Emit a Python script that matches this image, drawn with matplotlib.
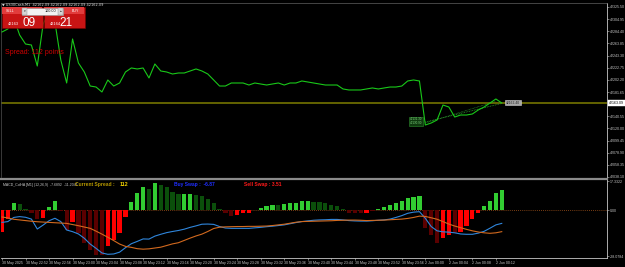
import matplotlib
matplotlib.use("Agg")
import matplotlib.pyplot as plt
from matplotlib.patches import Rectangle
import matplotlib.transforms as mtrans

plt.rcParams['font.family'] = ['Liberation Sans', 'DejaVu Sans']

# US30Cash M1 closes, one per bar
close = [42283.1, 42288.2, 42306.7, 42278.0, 42262.8, 42261.1, 42225.6, 42296.6, 42316.9, 42300.0,
         42235.8, 42196.9, 42271.3, 42230.7, 42215.5, 42191.8, 42190.1, 42181.7, 42202.0, 42191.8,
         42196.9, 42215.5, 42222.3, 42220.6, 42222.3, 42205.4, 42229.0, 42217.2, 42215.5, 42212.1,
         42213.8, 42213.8, 42217.2, 42220.6, 42217.2, 42212.1, 42202.0, 42191.8, 42191.8, 42196.9,
         42196.9, 42196.9, 42193.5, 42196.9, 42195.2, 42193.5, 42195.2, 42196.9, 42193.5, 42196.9,
         42196.9, 42200.3, 42198.6, 42196.9, 42195.2, 42193.5, 42193.5, 42193.5, 42186.8, 42185.1,
         42185.1, 42185.1, 42186.8, 42188.5, 42186.8, 42188.5, 42190.1, 42190.1, 42191.8, 42200.3,
         42202.0, 42200.3, 42125.9, 42129.3, 42134.4, 42159.7, 42156.3, 42139.4, 42142.8, 42142.8,
         42144.5, 42151.3, 42156.3, 42163.1, 42169.9, 42163.1]
bid = 42163.09
ask = 42164.21

# MACD_ColHA (12,26,9)
hist = [-13.1, -5.6, 4.0, 3.6, 0.4, -2.0, -5.6, -4.6, 1.6, 5.6,
        -0.4, -12.1, -7.1, -14.1, -20.0, -24.2, -27.2, -27.2, -21.8, -18.2,
        -13.7, -4.0, 4.6, 10.5, 14.1, 12.5, 16.1, 15.1, 13.7, 11.1,
        9.7, 9.9, 9.7, 9.1, 8.5, 6.5, 4.0, 0.6, -2.0, -3.6,
        -3.0, -2.0, -2.0, 0.3, 1.4, 2.4, 3.0, 2.8, 3.4, 4.0,
        4.4, 5.4, 5.6, 5.0, 4.6, 4.0, 3.2, 2.4, 0.4, -1.6,
        -1.6, -1.6, -1.6, -0.3, 0.6, 1.6, 2.8, 4.0, 5.6, 7.5,
        8.1, 8.5, -11.1, -15.1, -20.0, -17.1, -15.1, -14.1, -13.1, -9.7,
        -5.4, -1.6, 2.4, 5.6, 10.1, 12.1]
# bar state: G up-strong, g up-weak, R down-strong, r down-weak
hist_state = list("RRGggrrRGG" "rrRrrrrrRR" "RRGGGgGggg" "gGGgggggrr" "RRRgGGGgGG"
                  "GGGggggggr" "rrRrGGGGGG" "GGrrrRRrRR" "RRGGGG")
macd = [-7.5, -7.0, -4.5, -4.0, -4.4, -5.5, -11.5, -9.1, -6.5, -5.0,
        -7.0, -12.1, -13.1, -14.5, -17.1, -20.6, -23.2, -26.0, -26.8, -26.6,
        -25.5, -22.8, -20.4, -19.0, -17.5, -17.6, -15.8, -14.7, -13.7, -13.0,
        -12.4, -11.6, -10.5, -9.6, -8.6, -8.5, -8.7, -10.0, -10.9, -11.1,
        -11.1, -11.1, -11.1, -10.8, -10.5, -10.1, -9.8, -9.4, -9.0, -8.3,
        -7.6, -7.0, -6.6, -6.2, -6.0, -5.9, -5.7, -5.7, -6.0, -6.4,
        -6.6, -6.7, -6.7, -6.5, -6.2, -6.0, -5.5, -4.5, -3.4, -2.0,
        -1.3, -1.0, -5.0, -10.0, -12.6, -13.2, -13.4, -13.8, -14.5, -14.7,
        -14.7, -14.0, -12.9, -11.0, -9.0, -8.1]
signal = [-4.2, -4.8, -5.6, -6.0, -6.4, -6.8, -7.1, -7.3, -7.5, -7.7,
          -7.9, -8.1, -8.8, -9.5, -10.3, -11.1, -12.8, -14.6, -16.5, -18.5,
          -20.6, -22.0, -22.6, -23.4, -23.7, -23.5, -23.0, -22.5, -21.5, -20.5,
          -19.8, -18.4, -17.0, -15.7, -14.6, -13.0, -11.2, -10.4, -10.2, -10.1,
          -10.0, -10.0, -9.9, -9.9, -9.8, -9.7, -9.4, -9.0, -8.6, -8.0,
          -7.4, -7.0, -6.9, -6.8, -6.7, -6.6, -6.5, -6.3, -6.2, -6.1,
          -6.1, -6.2, -6.4, -6.3, -6.2, -6.1, -5.9, -5.7, -5.5, -5.1,
          -4.5, -3.7, -3.9, -4.7, -5.6, -7.0, -8.5, -9.7, -10.7, -11.7,
          -12.6, -13.3, -13.8, -14.1, -13.8, -13.1]

time_labels = ["30 May 2025", "30 May 22:52", "30 May 22:56", "30 May 23:00", "30 May 23:04",
               "30 May 23:08", "30 May 23:12", "30 May 23:16", "30 May 23:20", "30 May 23:24",
               "30 May 23:28", "30 May 23:32", "30 May 23:36", "30 May 23:40", "30 May 23:44",
               "30 May 23:48", "30 May 23:52", "30 May 23:56", "2 Jun 00:00", "2 Jun 00:04",
               "2 Jun 00:08", "2 Jun 00:12"]
price_ticks = [42325.50, 42304.95, 42284.40, 42263.85, 42243.30, 42222.75, 42202.20, 42181.65,
               42140.55, 42120.00, 42099.45, 42078.90, 42058.35, 42038.10]
macd_ticks = [17.3322, 0.0, -28.0784]
macd_tick_labels = ["17.3322", "0.00", "-28.0784"]
trade_open = [42130.9, 42131.3]
trade_close = [42162.4, 42165.8]

bars = list(range(len(close)))
W, H = 625, 267
axcol = '#c8c8c8'

fig = plt.figure(figsize=(W / 100, H / 100), dpi=100, facecolor='black')
ax1 = fig.add_axes([1 / W, (H - 177) / H, 606 / W, 174 / H], facecolor='black')
ax2 = fig.add_axes([1 / W, (H - 258) / H, 606 / W, 79 / H], facecolor='black')
xlim = (-0.17, 102.9)

# --- price panel ---
ax1.plot(bars, close, color='#19c819', lw=0.8, zorder=3)
ax1.axhline(bid, color='#6b6b00', lw=1.3, zorder=2)
ax1.plot([72, 85], [trade_open[0], trade_close[0]], color='#2e9c2e', ls=(0, (1, 1)), lw=0.6)
ax1.plot([72, 84], [trade_open[1] - 2, trade_close[1]], color='#2e9c2e', ls=(0, (1, 1)), lw=0.5)
ax1.text(71.4, trade_open[0] + 1, "%.2f\n%.2f" % (trade_open[1], trade_open[0]), ha='right', va='center',
         fontsize=2.2, color='#7fd07f', linespacing=1.0,
         bbox=dict(boxstyle='square,pad=0.25', fc='#0f3a0f', ec='#2e8b2e', lw=0.4))
ax1.text(85.7, trade_close[0] + 1.5, "%.2f" % trade_close[0], ha='left', va='center',
         fontsize=2.4, color='#202020',
         bbox=dict(boxstyle='square,pad=0.25', fc='#a8a8a8', ec='#d0d0d0', lw=0.4))
ax1.set_xlim(*xlim)
ax1.set_ylim(42038.03, 42332.09)
ax1.set_xticks([])
ax1.yaxis.tick_right()
ax1.set_yticks(price_ticks)
ax1.set_yticklabels(["%.2f" % p for p in price_ticks])
ax1.tick_params(axis='y', labelsize=2.6, colors=axcol, length=1.5, width=0.4, pad=0.6)
for s in ax1.spines.values():
    s.set_visible(False)
ax1.spines['right'].set_visible(True)
ax1.spines['right'].set_color(axcol)
ax1.spines['right'].set_linewidth(0.6)
ax1.spines['top'].set_visible(True)
ax1.spines['top'].set_color('#606060')
ax1.spines['top'].set_linewidth(0.5)
ax1.spines['left'].set_visible(True)
ax1.spines['left'].set_color('#505050')
ax1.spines['left'].set_linewidth(0.5)
tr = mtrans.blended_transform_factory(ax1.transAxes, ax1.transData)
ax1.text(1.003, bid, "%.2f" % bid, transform=tr, ha='left', va='center', fontsize=2.6, color='black',
         bbox=dict(boxstyle='square,pad=0.25', fc='white', ec='white', lw=0.3), clip_on=False)

# --- MACD panel ---
colmap = {'G': '#32cd32', 'g': '#0b4f0b', 'R': '#ff0000', 'r': '#5a0000'}
ax2.bar(bars, hist, width=0.72, color=[colmap[s] for s in hist_state], zorder=2)
ax2.axhline(0, color='#a0521a', ls=(0, (1, 1.5)), lw=0.6, zorder=1)
ax2.plot(bars, macd, color='#2f86dc', lw=0.8, zorder=3)
ax2.plot(bars, signal, color='#d2691e', lw=0.8, zorder=3)
ax2.set_xlim(*xlim)
ax2.set_ylim(-29.04, 18.76)
ax2.yaxis.tick_right()
ax2.set_yticks(macd_ticks)
ax2.set_yticklabels(macd_tick_labels)
ax2.tick_params(axis='y', labelsize=2.6, colors=axcol, length=1.5, width=0.4, pad=0.6)
ax2.set_xticks(bars[::4])
ax2.set_xticklabels(time_labels, ha='left')
ax2.tick_params(axis='x', labelsize=2.6, colors=axcol, length=1.5, width=0.4, pad=1.0)
for s in ax2.spines.values():
    s.set_visible(False)
for side in ('right', 'bottom'):
    ax2.spines[side].set_visible(True)
    ax2.spines[side].set_color(axcol)
    ax2.spines[side].set_linewidth(0.6)
ax2.spines['top'].set_visible(True)
ax2.spines['top'].set_color('#8a8a8a')
ax2.spines['top'].set_linewidth(1.6)

ax2.text(0.004, 0.93, "MACD_ColHA [M1] (12,26,9)  -7.6892  -11.2041", transform=ax2.transAxes,
         fontsize=2.5, color='#c8c8c8', va='center')
ax2.text(0.122, 0.93, "Current Spread : ", transform=ax2.transAxes, fontsize=3.6, color='#b89a00',
         fontweight='bold', va='center')
ax2.text(0.195, 0.93, "112", transform=ax2.transAxes, fontsize=3.8, color='#f0d000',
         fontweight='bold', va='center')
ax2.text(0.285, 0.93, "Buy Swap :  -6.87", transform=ax2.transAxes, fontsize=3.6, color='#1f2fff',
         fontweight='bold', va='center')
ax2.text(0.401, 0.93, "Sell Swap : 3.51", transform=ax2.transAxes, fontsize=3.6, color='#ff1a1a',
         fontweight='bold', va='center')

# --- overlay: chart header and one-click trading panel (pixel coords) ---
ov = fig.add_axes([0, 0, 1, 1], zorder=10)
ov.set_xlim(0, W)
ov.set_ylim(H, 0)
ov.axis('off')
ov.patch.set_alpha(0)
ov.text(2, 4.5, "\u25bc US30Cash,M1  42162.09 42162.09 42162.09 42162.09", fontsize=2.5,
        color='#e0e0e0', va='center', family=['DejaVu Sans'])
for x0 in (2, 44):
    ov.add_patch(Rectangle((x0, 7), 40.5, 21, fc='#c81414', ec='#7a0000', lw=0.4))
    ov.add_patch(Rectangle((x0 + 0.4, 7.4), 39.7, 7, fc='#e23c3c', ec='none'))
ov.add_patch(Rectangle((22, 7.5), 41, 7, fc='#f2f2f2', ec='#909090', lw=0.4))
ov.add_patch(Rectangle((22, 7.5), 5, 7, fc='#d6d6d6', ec='#909090', lw=0.3))
ov.add_patch(Rectangle((58, 7.5), 5, 7, fc='#d6d6d6', ec='#909090', lw=0.3))
ov.text(24.5, 11, "\u25be", fontsize=2.5, ha='center', va='center', color='#303030', family=['DejaVu Sans'])
ov.text(60.5, 11, "\u25b4", fontsize=2.5, ha='center', va='center', color='#303030', family=['DejaVu Sans'])
ov.text(56, 11, "100.00", fontsize=2.7, ha='right', va='center', color='#101010')
ov.text(10, 11, "SELL", fontsize=2.6, ha='center', va='center', color='white')
ov.text(75, 11, "BUY", fontsize=2.6, ha='center', va='center', color='white')
ov.text(13, 24, "%d" % int(bid) + "", fontsize=2.8, ha='center', va='center', color='white')
ov.text(29.5, 23, "%02d" % round((bid % 1) * 100), fontsize=8.5, ha='center', va='center', color='white')
ov.text(55, 24, "%d" % int(ask), fontsize=2.8, ha='center', va='center', color='white')
ov.text(66.5, 23, "%02d" % round((ask % 1) * 100), fontsize=8.5, ha='center', va='center', color='white')
ov.text(5, 53, "Spread: 112 points", fontsize=5, color='#d00000', va='center')

fig.savefig("out.png", dpi=100, facecolor='black')
